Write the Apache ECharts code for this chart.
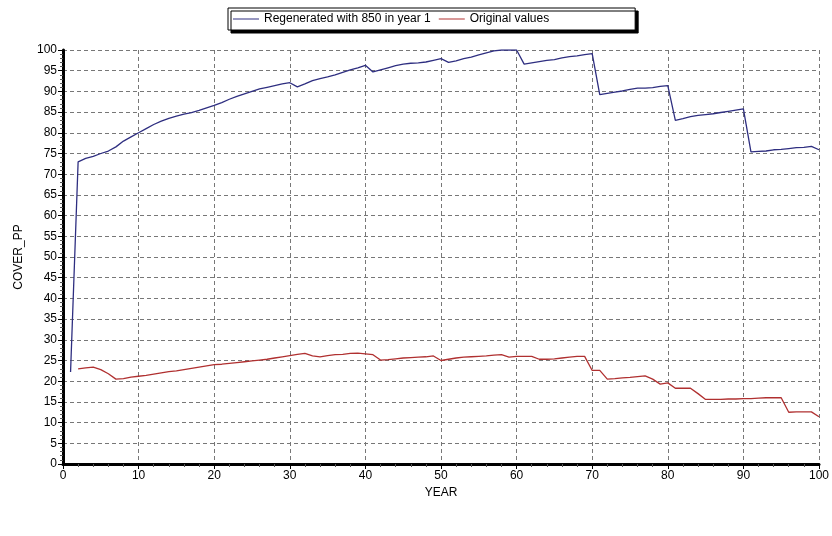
<!DOCTYPE html>
<html>
<head>
<meta charset="utf-8">
<script src="https://cdn.jsdelivr.net/npm/echarts@6/dist/echarts.min.js"></script>
<style>html,body{margin:0;padding:0;background:#fff}#c{width:832px;height:536px}</style>
</head>
<body>
<div id="c"></div>
<script>
const years = Array.from({length: 100}, (_, i) => i + 1);
const regenerated = [
  22.2, 73.0, 73.8, 74.3, 75.0, 75.6, 76.6, 78.0, 79.0, 80.0,
  81.0, 82.0, 82.8, 83.5, 84.0, 84.5, 84.9, 85.4, 86.0, 86.6,
  87.3, 88.1, 88.8, 89.4, 90.0, 90.6, 91.0, 91.4, 91.8, 92.1,
  91.1, 91.8, 92.6, 93.1, 93.5, 94.0, 94.6, 95.2, 95.7, 96.3,
  94.7, 95.2, 95.7, 96.2, 96.6, 96.8, 96.9, 97.1, 97.5, 97.9,
  97.0, 97.4, 97.9, 98.3, 98.8, 99.3, 99.8, 100, 100, 100,
  96.6, 96.9, 97.2, 97.5, 97.7, 98.1, 98.4, 98.6, 98.9, 99.1,
  89.2, 89.5, 89.8, 90.1, 90.5, 90.8, 90.8, 90.9, 91.2, 91.4,
  83.0, 83.4, 83.9, 84.2, 84.4, 84.6, 84.9, 85.2, 85.5, 85.8,
  75.4, 75.5, 75.6, 75.9, 76.0, 76.2, 76.4, 76.5, 76.7, 75.9
];
const original = [
  null, 23.0, 23.2, 23.4, 22.8, 21.8, 20.5, 20.6, 21.0, 21.2,
  21.4, 21.7, 22.0, 22.3, 22.5, 22.8, 23.1, 23.4, 23.7, 24.0,
  24.1, 24.3, 24.5, 24.7, 24.9, 25.1, 25.3, 25.6, 25.9, 26.2,
  26.5, 26.7, 26.1, 25.9, 26.2, 26.4, 26.5, 26.7, 26.8, 26.6,
  26.4, 25.1, 25.2, 25.4, 25.6, 25.7, 25.8, 25.9, 26.1, 25.0,
  25.3, 25.6, 25.8, 25.9, 26.0, 26.1, 26.3, 26.4, 25.8, 26.0,
  26.0, 26.0, 25.3, 25.3, 25.4, 25.6, 25.8, 26.0, 26.0, 22.6,
  22.6, 20.5, 20.6, 20.8, 20.9, 21.1, 21.3, 20.5, 19.3, 19.6,
  18.3, 18.3, 18.3, 17.0, 15.6, 15.6, 15.6, 15.7, 15.7, 15.8,
  15.8, 15.9, 16.0, 16.0, 16.0, 12.5, 12.6, 12.6, 12.6, 11.4
];
const seriesNames = ['Regenerated with 850 in year 1', 'Original values'];

const pairs = (vals) => years.map((y, i) => [y, vals[i]]);
const font = 'Arial, "Liberation Sans", sans-serif';

const chart = echarts.init(document.getElementById('c'), null, {renderer: 'canvas'});
chart.setOption({
  animation: false,
  backgroundColor: '#fff',
  textStyle: {fontFamily: font},
  legend: {
    left: 228, top: 8,
    padding: [5, 86, 5, 5],
    itemGap: 8,
    icon: 'rect',
    itemWidth: 26, itemHeight: 1,
    borderColor: '#000', borderWidth: 1,
    backgroundColor: '#fff',
    shadowColor: '#000', shadowBlur: 0, shadowOffsetX: 3, shadowOffsetY: 3,
    textStyle: {fontSize: 12, color: '#000', fontFamily: font},
    data: seriesNames
  },
  grid: {left: 63, right: 12, top: 50, bottom: 72},
  xAxis: {
    type: 'value', min: 0, max: 100, interval: 10,
    name: 'YEAR', nameLocation: 'middle', nameGap: 22,
    nameTextStyle: {fontSize: 12, color: '#000'},
    axisLine: {show: true, lineStyle: {color: '#000', width: 3}},
    axisTick: {show: true, length: 5, lineStyle: {color: '#000'}},
    minorTick: {show: true, splitNumber: 5, length: 3, lineStyle: {color: '#555'}},
    axisLabel: {fontSize: 12, color: '#000', margin: 6},
    splitLine: {show: true, lineStyle: {color: '#777', type: [4, 3], width: 1}}
  },
  yAxis: {
    type: 'value', min: 0, max: 100, interval: 5,
    name: 'COVER_PP', nameLocation: 'middle', nameGap: 38,
    nameTextStyle: {fontSize: 12, color: '#000'},
    axisLine: {show: true, lineStyle: {color: '#000', width: 3}},
    axisTick: {show: true, length: 5, lineStyle: {color: '#000'}},
    minorTick: {show: true, splitNumber: 5, length: 3, lineStyle: {color: '#555'}},
    axisLabel: {fontSize: 12, color: '#000', margin: 6},
    splitLine: {show: true, lineStyle: {color: '#777', type: [4, 3], width: 1}}
  },
  series: [
    {
      name: seriesNames[0], type: 'line', data: pairs(regenerated),
      symbol: 'none', lineStyle: {color: '#2E2E80', width: 1.3},
      itemStyle: {color: '#2E2E80'}
    },
    {
      name: seriesNames[1], type: 'line', data: pairs(original),
      symbol: 'none', lineStyle: {color: '#B03030', width: 1.3},
      itemStyle: {color: '#B03030'}
    }
  ]
});
</script>
</body>
</html>
